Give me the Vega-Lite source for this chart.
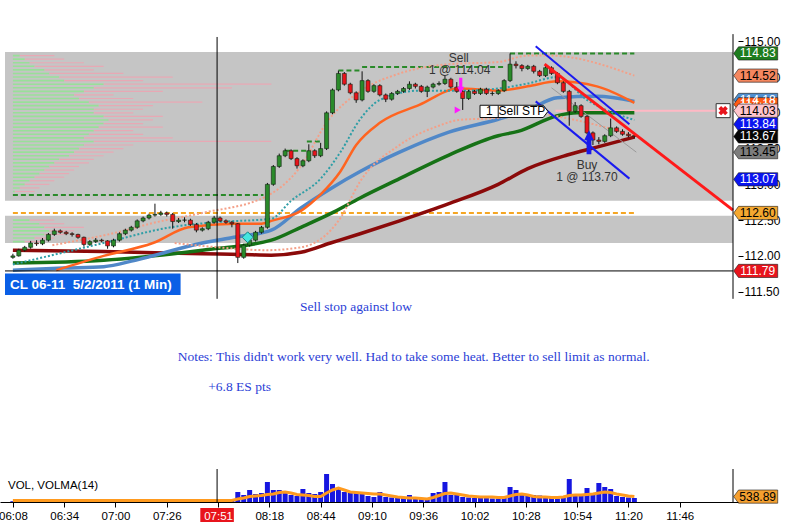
{
  "$schema": "https://vega.github.io/schema/vega-lite/v6.json",
  "width": 738,
  "height": 502,
  "autosize": {"type": "none"},
  "padding": {"left": 0, "top": 0, "right": 54, "bottom": 28},
  "background": "white",
  "config": {"view": {"stroke": null}, "font": "Liberation Sans"},
  "datasets": {
    "bands": [{"m": -4, "m2": 365, "p": 114.85, "p2": 112.77}, {"m": -4, "m2": 365, "p": 112.56, "p2": 112.18}],
    "prof": [
      {"p": 114.80, "g": 3.5, "r": 21}, {"p": 114.75, "g": 6, "r": 26}, {"p": 114.70, "g": 8.5, "r": 36},
      {"p": 114.65, "g": 11, "r": 46}, {"p": 114.60, "g": 16, "r": 41}, {"p": 114.55, "g": 18.5, "r": 56},
      {"p": 114.50, "g": 23.5, "r": 81}, {"p": 114.45, "g": 26, "r": 66}, {"p": 114.40, "g": 46, "r": 131},
      {"p": 114.35, "g": 41, "r": 111}, {"p": 114.30, "g": 36, "r": 76}, {"p": 114.25, "g": 31, "r": 51},
      {"p": 114.20, "g": 33.5, "r": 61}, {"p": 114.15, "g": 38.5, "r": 96}, {"p": 114.10, "g": 43.5, "r": 71},
      {"p": 114.05, "g": 41, "r": 66}, {"p": 114.00, "g": 41, "r": 61}, {"p": 113.95, "g": 46, "r": 76},
      {"p": 113.90, "g": 48.5, "r": 71}, {"p": 113.85, "g": 46, "r": 66}, {"p": 113.80, "g": 43.5, "r": 76},
      {"p": 113.75, "g": 41, "r": 61}, {"p": 113.70, "g": 38.5, "r": 66}, {"p": 113.65, "g": 36, "r": 81},
      {"p": 113.60, "g": 41, "r": 131}, {"p": 113.55, "g": 36, "r": 61}, {"p": 113.50, "g": 33.5, "r": 56},
      {"p": 113.45, "g": 31, "r": 51}, {"p": 113.40, "g": 28.5, "r": 46}, {"p": 113.35, "g": 23.5, "r": 41},
      {"p": 113.30, "g": 21, "r": 38.5}, {"p": 113.25, "g": 18.5, "r": 33.5}, {"p": 113.20, "g": 16, "r": 31},
      {"p": 113.15, "g": 13.5, "r": 28.5}, {"p": 113.10, "g": 11, "r": 26}, {"p": 113.05, "g": 8.5, "r": 21},
      {"p": 113.00, "g": 6, "r": 18.5}, {"p": 112.95, "g": 3.5, "r": 13.5}, {"p": 112.90, "g": 1, "r": 11},
      {"p": 112.50, "g": 8.5, "r": 21}, {"p": 112.45, "g": 13.5, "r": 26}, {"p": 112.40, "g": 16, "r": 36},
      {"p": 112.35, "g": 18.5, "r": 31}, {"p": 112.30, "g": 16, "r": 26}, {"p": 112.25, "g": 11, "r": 21},
      {"p": 112.20, "g": 6, "r": 16}
    ],
    "hi": [
      {"m": 0, "m2": 127, "p": 112.85}, {"m": 138, "m2": 149, "p": 113.47}, {"m": 149, "m2": 157, "p": 113.60},
      {"m": 165, "m2": 177, "p": 114.59}, {"m": 177, "m2": 250, "p": 114.64}, {"m": 252, "m2": 315, "p": 114.83}
    ],
    "lvl": [{"m": 0, "m2": 316, "p": 112.60}],
    "seg": [
      {"s": "chan", "m": 265, "p": 114.93, "m2": 312.5, "p2": 113.84},
      {"s": "chan", "m": 265, "p": 114.16, "m2": 312.5, "p2": 113.08},
      {"s": "trend", "m": 269.5, "p": 114.68, "m2": 365, "p2": 112.64},
      {"s": "stop", "m": 275, "p": 114.03, "m2": 360, "p2": 114.03},
      {"s": "low", "m": -4, "p": 111.79, "m2": 365, "p2": 111.79},
      {"s": "cursor", "m": 103.5, "p": 115.06, "m2": 103.5, "p2": 111.4},
      {"s": "edge", "m": 365, "p": 115.1, "m2": 365, "p2": 111.4},
      {"s": "divider", "m": 246, "p": 114.1, "m2": 246, "p2": 113.94}
    ],
    "ma": [
      {"s": "maroon", "m": 0, "p": 112.08}, {"s": "maroon", "m": 46, "p": 112.06}, {"s": "maroon", "m": 96, "p": 112.03},
      {"s": "maroon", "m": 116, "p": 112.02}, {"s": "maroon", "m": 131, "p": 112.01}, {"s": "maroon", "m": 146, "p": 112.05},
      {"s": "maroon", "m": 161, "p": 112.18}, {"s": "maroon", "m": 176, "p": 112.31}, {"s": "maroon", "m": 196, "p": 112.49},
      {"s": "maroon", "m": 221, "p": 112.73}, {"s": "maroon", "m": 246, "p": 113.00}, {"s": "maroon", "m": 261, "p": 113.22},
      {"s": "maroon", "m": 281, "p": 113.41}, {"s": "maroon", "m": 296, "p": 113.52}, {"s": "maroon", "m": 315, "p": 113.66},
      {"s": "green", "m": 0, "p": 111.90}, {"s": "green", "m": 46, "p": 111.94}, {"s": "green", "m": 96, "p": 112.08},
      {"s": "green", "m": 131, "p": 112.22}, {"s": "green", "m": 146, "p": 112.40}, {"s": "green", "m": 161, "p": 112.59},
      {"s": "green", "m": 176, "p": 112.81}, {"s": "green", "m": 196, "p": 113.08}, {"s": "green", "m": 221, "p": 113.41},
      {"s": "green", "m": 246, "p": 113.68}, {"s": "green", "m": 256, "p": 113.74}, {"s": "green", "m": 276, "p": 113.96},
      {"s": "green", "m": 286, "p": 114.00}, {"s": "green", "m": 315, "p": 114.00},
      {"s": "blue", "m": 0, "p": 111.80}, {"s": "blue", "m": 26, "p": 111.83}, {"s": "blue", "m": 46, "p": 111.85},
      {"s": "blue", "m": 62, "p": 111.94}, {"s": "blue", "m": 96, "p": 112.18}, {"s": "blue", "m": 112, "p": 112.26},
      {"s": "blue", "m": 131, "p": 112.36}, {"s": "blue", "m": 146, "p": 112.67}, {"s": "blue", "m": 161, "p": 112.94},
      {"s": "blue", "m": 176, "p": 113.18}, {"s": "blue", "m": 196, "p": 113.45}, {"s": "blue", "m": 221, "p": 113.73},
      {"s": "blue", "m": 246, "p": 113.91}, {"s": "blue", "m": 261, "p": 114.04}, {"s": "blue", "m": 276, "p": 114.21},
      {"s": "blue", "m": 296, "p": 114.23}, {"s": "blue", "m": 315, "p": 114.16},
      {"s": "orange", "m": 22, "p": 111.80}, {"s": "orange", "m": 46, "p": 112.00}, {"s": "orange", "m": 71, "p": 112.18},
      {"s": "orange", "m": 89, "p": 112.40}, {"s": "orange", "m": 112, "p": 112.45}, {"s": "orange", "m": 126, "p": 112.45},
      {"s": "orange", "m": 131, "p": 112.49}, {"s": "orange", "m": 146, "p": 112.63}, {"s": "orange", "m": 156, "p": 112.86},
      {"s": "orange", "m": 166, "p": 113.18}, {"s": "orange", "m": 174, "p": 113.55}, {"s": "orange", "m": 186, "p": 113.86},
      {"s": "orange", "m": 206, "p": 114.11}, {"s": "orange", "m": 226, "p": 114.34}, {"s": "orange", "m": 246, "p": 114.31},
      {"s": "orange", "m": 261, "p": 114.37}, {"s": "orange", "m": 276, "p": 114.44}, {"s": "orange", "m": 296, "p": 114.37},
      {"s": "orange", "m": 315, "p": 114.14},
      {"s": "teal", "m": 0, "p": 111.88}, {"s": "teal", "m": 46, "p": 112.18}, {"s": "teal", "m": 80, "p": 112.40},
      {"s": "teal", "m": 102, "p": 112.47}, {"s": "teal", "m": 131, "p": 112.52}, {"s": "teal", "m": 141, "p": 112.77},
      {"s": "teal", "m": 156, "p": 113.08}, {"s": "teal", "m": 166, "p": 113.45}, {"s": "teal", "m": 176, "p": 113.91},
      {"s": "teal", "m": 186, "p": 114.18}, {"s": "teal", "m": 206, "p": 114.31}, {"s": "teal", "m": 226, "p": 114.31},
      {"s": "teal", "m": 246, "p": 114.34}, {"s": "teal", "m": 261, "p": 114.41}, {"s": "teal", "m": 276, "p": 114.50},
      {"s": "teal", "m": 291, "p": 114.18}, {"s": "teal", "m": 315, "p": 113.90},
      {"s": "upper", "m": 20, "p": 112.15}, {"s": "upper", "m": 56, "p": 112.35}, {"s": "upper", "m": 71, "p": 112.46},
      {"s": "upper", "m": 96, "p": 112.60}, {"s": "upper", "m": 129, "p": 112.84}, {"s": "upper", "m": 145, "p": 113.22},
      {"s": "upper", "m": 160, "p": 113.90}, {"s": "upper", "m": 176, "p": 114.30}, {"s": "upper", "m": 196, "p": 114.55},
      {"s": "upper", "m": 221, "p": 114.68}, {"s": "upper", "m": 246, "p": 114.71}, {"s": "upper", "m": 261, "p": 114.80},
      {"s": "upper", "m": 272, "p": 114.80}, {"s": "upper", "m": 315, "p": 114.52},
      {"s": "lower", "m": 82, "p": 112.18}, {"s": "lower", "m": 104, "p": 112.12}, {"s": "lower", "m": 129, "p": 112.08},
      {"s": "lower", "m": 146, "p": 112.12}, {"s": "lower", "m": 166, "p": 112.53}, {"s": "lower", "m": 176, "p": 113.04},
      {"s": "lower", "m": 196, "p": 113.55}, {"s": "lower", "m": 216, "p": 113.82}, {"s": "lower", "m": 226, "p": 113.90},
      {"s": "lower", "m": 246, "p": 113.93}, {"s": "lower", "m": 261, "p": 114.00}, {"s": "lower", "m": 285, "p": 113.90},
      {"s": "lower", "m": 315, "p": 113.68},
      {"s": "grey", "m": 273, "p": 114.35}, {"s": "grey", "m": 316, "p": 113.45}
    ],
    "bars": [
      {"m": 0, "o": 111.98, "h": 112.03, "l": 111.96, "c": 112.00, "v": 80, "a": 150},
      {"m": 3, "o": 112.00, "h": 112.10, "l": 111.99, "c": 112.08, "v": 60, "a": 150},
      {"m": 6, "o": 112.08, "h": 112.14, "l": 112.06, "c": 112.12, "v": 90, "a": 150},
      {"m": 9, "o": 112.12, "h": 112.21, "l": 112.10, "c": 112.18, "v": 70, "a": 150},
      {"m": 12, "o": 112.18, "h": 112.22, "l": 112.14, "c": 112.17, "v": 80, "a": 150},
      {"m": 15, "o": 112.17, "h": 112.25, "l": 112.15, "c": 112.22, "v": 100, "a": 150},
      {"m": 18, "o": 112.22, "h": 112.32, "l": 112.20, "c": 112.30, "v": 200, "a": 150},
      {"m": 21, "o": 112.30, "h": 112.38, "l": 112.28, "c": 112.35, "v": 90, "a": 150},
      {"m": 24, "o": 112.35, "h": 112.37, "l": 112.31, "c": 112.33, "v": 70, "a": 150},
      {"m": 27, "o": 112.33, "h": 112.35, "l": 112.29, "c": 112.31, "v": 60, "a": 150},
      {"m": 30, "o": 112.31, "h": 112.33, "l": 112.27, "c": 112.30, "v": 80, "a": 150},
      {"m": 33, "o": 112.30, "h": 112.31, "l": 112.24, "c": 112.26, "v": 70, "a": 150},
      {"m": 36, "o": 112.26, "h": 112.27, "l": 112.13, "c": 112.16, "v": 120, "a": 150},
      {"m": 39, "o": 112.16, "h": 112.22, "l": 112.14, "c": 112.20, "v": 200, "a": 150},
      {"m": 42, "o": 112.20, "h": 112.25, "l": 112.18, "c": 112.22, "v": 80, "a": 150},
      {"m": 45, "o": 112.22, "h": 112.24, "l": 112.19, "c": 112.21, "v": 60, "a": 150},
      {"m": 48, "o": 112.21, "h": 112.22, "l": 112.10, "c": 112.14, "v": 90, "a": 150},
      {"m": 51, "o": 112.14, "h": 112.24, "l": 112.12, "c": 112.22, "v": 100, "a": 150},
      {"m": 54, "o": 112.22, "h": 112.33, "l": 112.20, "c": 112.31, "v": 250, "a": 150},
      {"m": 57, "o": 112.31, "h": 112.38, "l": 112.29, "c": 112.36, "v": 80, "a": 150},
      {"m": 60, "o": 112.36, "h": 112.42, "l": 112.34, "c": 112.40, "v": 70, "a": 150},
      {"m": 63, "o": 112.40, "h": 112.51, "l": 112.38, "c": 112.49, "v": 90, "a": 150},
      {"m": 66, "o": 112.49, "h": 112.55, "l": 112.47, "c": 112.53, "v": 80, "a": 150},
      {"m": 69, "o": 112.53, "h": 112.59, "l": 112.51, "c": 112.57, "v": 100, "a": 150},
      {"m": 72, "o": 112.57, "h": 112.73, "l": 112.55, "c": 112.58, "v": 180, "a": 150},
      {"m": 75, "o": 112.58, "h": 112.63, "l": 112.56, "c": 112.60, "v": 80, "a": 150},
      {"m": 78, "o": 112.60, "h": 112.62, "l": 112.55, "c": 112.58, "v": 70, "a": 150},
      {"m": 81, "o": 112.58, "h": 112.60, "l": 112.38, "c": 112.48, "v": 150, "a": 150},
      {"m": 84, "o": 112.48, "h": 112.53, "l": 112.46, "c": 112.50, "v": 200, "a": 150},
      {"m": 87, "o": 112.50, "h": 112.54, "l": 112.47, "c": 112.50, "v": 80, "a": 150},
      {"m": 90, "o": 112.50, "h": 112.52, "l": 112.42, "c": 112.44, "v": 70, "a": 150},
      {"m": 93, "o": 112.44, "h": 112.46, "l": 112.33, "c": 112.36, "v": 90, "a": 150},
      {"m": 96, "o": 112.36, "h": 112.40, "l": 112.34, "c": 112.38, "v": 80, "a": 150},
      {"m": 99, "o": 112.38, "h": 112.49, "l": 112.36, "c": 112.47, "v": 70, "a": 150},
      {"m": 102, "o": 112.47, "h": 112.56, "l": 112.45, "c": 112.53, "v": 80, "a": 150},
      {"m": 105, "o": 112.53, "h": 112.55, "l": 112.47, "c": 112.49, "v": 70, "a": 150},
      {"m": 108, "o": 112.49, "h": 112.51, "l": 112.45, "c": 112.47, "v": 90, "a": 150},
      {"m": 111, "o": 112.47, "h": 112.49, "l": 112.40, "c": 112.45, "v": 150, "a": 150},
      {"m": 114, "o": 112.45, "h": 112.46, "l": 111.90, "c": 111.98, "v": 1000, "a": 300},
      {"m": 117, "o": 111.98, "h": 112.17, "l": 111.96, "c": 112.15, "v": 700, "a": 400},
      {"m": 120, "o": 112.15, "h": 112.24, "l": 112.13, "c": 112.22, "v": 1200, "a": 550},
      {"m": 123, "o": 112.22, "h": 112.35, "l": 112.20, "c": 112.33, "v": 800, "a": 600},
      {"m": 126, "o": 112.33, "h": 112.42, "l": 112.31, "c": 112.40, "v": 900, "a": 650},
      {"m": 129, "o": 112.40, "h": 113.02, "l": 112.38, "c": 113.00, "v": 2000, "a": 750},
      {"m": 132, "o": 113.00, "h": 113.27, "l": 112.98, "c": 113.25, "v": 1200, "a": 800},
      {"m": 135, "o": 113.25, "h": 113.43, "l": 113.23, "c": 113.40, "v": 1200, "a": 950},
      {"m": 138, "o": 113.40, "h": 113.50, "l": 113.38, "c": 113.47, "v": 1100, "a": 1000},
      {"m": 141, "o": 113.47, "h": 113.49, "l": 113.34, "c": 113.36, "v": 700, "a": 900},
      {"m": 144, "o": 113.36, "h": 113.38, "l": 113.22, "c": 113.26, "v": 600, "a": 750},
      {"m": 147, "o": 113.26, "h": 113.35, "l": 113.24, "c": 113.33, "v": 1300, "a": 700},
      {"m": 150, "o": 113.33, "h": 113.56, "l": 113.31, "c": 113.47, "v": 900, "a": 650},
      {"m": 153, "o": 113.47, "h": 113.49, "l": 113.37, "c": 113.40, "v": 800, "a": 550},
      {"m": 156, "o": 113.40, "h": 113.58, "l": 113.38, "c": 113.50, "v": 1000, "a": 550},
      {"m": 159, "o": 113.50, "h": 114.02, "l": 113.48, "c": 114.00, "v": 2800, "a": 900},
      {"m": 162, "o": 114.00, "h": 114.34, "l": 113.98, "c": 114.32, "v": 1800, "a": 1200},
      {"m": 165, "o": 114.32, "h": 114.59, "l": 114.30, "c": 114.55, "v": 1400, "a": 1400},
      {"m": 168, "o": 114.55, "h": 114.57, "l": 114.38, "c": 114.40, "v": 1000, "a": 1200},
      {"m": 171, "o": 114.40, "h": 114.42, "l": 114.26, "c": 114.28, "v": 900, "a": 1000},
      {"m": 174, "o": 114.28, "h": 114.30, "l": 114.14, "c": 114.18, "v": 900, "a": 950},
      {"m": 177, "o": 114.18, "h": 114.58, "l": 114.16, "c": 114.45, "v": 800, "a": 900},
      {"m": 180, "o": 114.45, "h": 114.47, "l": 114.28, "c": 114.30, "v": 600, "a": 850},
      {"m": 183, "o": 114.30, "h": 114.40, "l": 114.28, "c": 114.38, "v": 500, "a": 800},
      {"m": 186, "o": 114.38, "h": 114.40, "l": 114.23, "c": 114.25, "v": 1000, "a": 800},
      {"m": 189, "o": 114.25, "h": 114.27, "l": 114.15, "c": 114.19, "v": 500, "a": 700},
      {"m": 192, "o": 114.19, "h": 114.29, "l": 114.17, "c": 114.27, "v": 450, "a": 600},
      {"m": 195, "o": 114.27, "h": 114.32, "l": 114.25, "c": 114.30, "v": 400, "a": 500},
      {"m": 198, "o": 114.30, "h": 114.36, "l": 114.28, "c": 114.34, "v": 400, "a": 450},
      {"m": 201, "o": 114.34, "h": 114.44, "l": 114.32, "c": 114.40, "v": 700, "a": 400},
      {"m": 204, "o": 114.40, "h": 114.42, "l": 114.34, "c": 114.37, "v": 400, "a": 400},
      {"m": 207, "o": 114.37, "h": 114.39, "l": 114.28, "c": 114.30, "v": 350, "a": 350},
      {"m": 210, "o": 114.30, "h": 114.38, "l": 114.22, "c": 114.36, "v": 250, "a": 300},
      {"m": 213, "o": 114.36, "h": 114.42, "l": 114.34, "c": 114.40, "v": 900, "a": 450},
      {"m": 216, "o": 114.40, "h": 114.44, "l": 114.38, "c": 114.41, "v": 1000, "a": 650},
      {"m": 219, "o": 114.41, "h": 114.52, "l": 114.39, "c": 114.47, "v": 2000, "a": 850},
      {"m": 222, "o": 114.47, "h": 114.49, "l": 114.34, "c": 114.36, "v": 700, "a": 900},
      {"m": 225, "o": 114.36, "h": 114.43, "l": 114.28, "c": 114.30, "v": 800, "a": 800},
      {"m": 228, "o": 114.30, "h": 114.32, "l": 114.04, "c": 114.20, "v": 500, "a": 700},
      {"m": 231, "o": 114.20, "h": 114.32, "l": 114.18, "c": 114.30, "v": 450, "a": 600},
      {"m": 234, "o": 114.30, "h": 114.32, "l": 114.25, "c": 114.27, "v": 400, "a": 550},
      {"m": 237, "o": 114.27, "h": 114.35, "l": 114.25, "c": 114.33, "v": 400, "a": 500},
      {"m": 240, "o": 114.33, "h": 114.35, "l": 114.25, "c": 114.27, "v": 400, "a": 500},
      {"m": 243, "o": 114.27, "h": 114.30, "l": 114.24, "c": 114.27, "v": 350, "a": 500},
      {"m": 246, "o": 114.27, "h": 114.33, "l": 114.25, "c": 114.31, "v": 350, "a": 450},
      {"m": 249, "o": 114.31, "h": 114.47, "l": 114.29, "c": 114.45, "v": 500, "a": 450},
      {"m": 252, "o": 114.45, "h": 114.83, "l": 114.43, "c": 114.68, "v": 1500, "a": 600},
      {"m": 255, "o": 114.68, "h": 114.72, "l": 114.62, "c": 114.66, "v": 1200, "a": 750},
      {"m": 258, "o": 114.66, "h": 114.68, "l": 114.58, "c": 114.62, "v": 700, "a": 800},
      {"m": 261, "o": 114.62, "h": 114.67, "l": 114.60, "c": 114.65, "v": 600, "a": 700},
      {"m": 264, "o": 114.65, "h": 114.67, "l": 114.55, "c": 114.58, "v": 700, "a": 550},
      {"m": 267, "o": 114.58, "h": 114.60, "l": 114.50, "c": 114.52, "v": 650, "a": 500},
      {"m": 270, "o": 114.52, "h": 114.66, "l": 114.50, "c": 114.63, "v": 500, "a": 500},
      {"m": 273, "o": 114.63, "h": 114.65, "l": 114.53, "c": 114.55, "v": 450, "a": 450},
      {"m": 276, "o": 114.55, "h": 114.57, "l": 114.40, "c": 114.42, "v": 350, "a": 450},
      {"m": 279, "o": 114.42, "h": 114.44, "l": 114.28, "c": 114.30, "v": 500, "a": 500},
      {"m": 282, "o": 114.30, "h": 114.32, "l": 113.82, "c": 114.02, "v": 2300, "a": 650},
      {"m": 285, "o": 114.02, "h": 114.15, "l": 114.00, "c": 114.10, "v": 800, "a": 700},
      {"m": 288, "o": 114.10, "h": 114.12, "l": 113.93, "c": 113.95, "v": 700, "a": 700},
      {"m": 291, "o": 113.95, "h": 113.97, "l": 113.70, "c": 113.72, "v": 1400, "a": 750},
      {"m": 294, "o": 113.72, "h": 113.74, "l": 113.55, "c": 113.62, "v": 900, "a": 800},
      {"m": 297, "o": 113.62, "h": 113.66, "l": 113.56, "c": 113.60, "v": 1900, "a": 900},
      {"m": 300, "o": 113.60, "h": 113.70, "l": 113.58, "c": 113.68, "v": 1500, "a": 1000},
      {"m": 303, "o": 113.68, "h": 113.92, "l": 113.66, "c": 113.79, "v": 1300, "a": 950},
      {"m": 306, "o": 113.79, "h": 113.81, "l": 113.72, "c": 113.74, "v": 600, "a": 800},
      {"m": 309, "o": 113.74, "h": 113.77, "l": 113.68, "c": 113.70, "v": 500, "a": 700},
      {"m": 312, "o": 113.70, "h": 113.73, "l": 113.66, "c": 113.68, "v": 450, "a": 600},
      {"m": 315, "o": 113.68, "h": 113.70, "l": 113.64, "c": 113.67, "v": 400, "a": 539}
    ],
    "trades": [
      {"k": "sell", "m": 227, "p": 114.38}, {"k": "fill", "m": 225.5, "p": 114.04},
      {"k": "buy", "m": 292, "p": 113.59}, {"k": "entry", "m": 119, "p": 112.26},
      {"k": "stpbox", "m": 254, "p": 114.02}, {"k": "xbox", "m": 360, "p": 114.03}
    ],
    "tlab": [
      {"t": "Sell", "m": 226, "p": 114.77}, {"t": "1 @ 114.04", "m": 226.5, "p": 114.60},
      {"t": "Buy", "m": 291, "p": 113.27}, {"t": "1 @ 113.70", "m": 291, "p": 113.10}
    ],
    "stp": [{"t": "1", "m": 241.5, "p": 114.02}, {"t": "Sell STP", "m": 258, "p": 114.02}],
    "tags": [
      {"s": "sb", "m": 376.5, "p": 114.18}, {"s": "or", "m": 376.5, "p": 114.12},
      {"s": "hi", "m": 376.5, "p": 114.83}, {"s": "up", "m": 376.5, "p": 114.52},
      {"s": "stop", "m": 376.5, "p": 114.03}, {"s": "ch1", "m": 376.5, "p": 113.84},
      {"s": "last", "m": 376.5, "p": 113.67}, {"s": "reg", "m": 376.5, "p": 113.45}, {"s": "ch2", "m": 376.5, "p": 113.07},
      {"s": "lvl", "m": 376.5, "p": 112.60}, {"s": "low", "m": 376.5, "p": 111.79}
    ],
    "cl": [{"t": "CL 06-11\u00a0 5/2/2011 (1 Min)", "m": -4, "m2": 85, "p": 111.753, "p2": 111.452, "tm": -1.5, "tp": 111.6}],
    "notes": [
      {"t": "Sell stop against low", "m": 145.5, "p": 111.288},
      {"t": "Notes: This didn't work very well. Had to take some heat. Better to sell limit as normal.", "m": 83.5, "p": 110.589},
      {"t": "+6.8 ES pts", "m": 99, "p": 110.164}
    ],
    "vseg": [{"m": 103.5, "v": 0, "v2": 3300}, {"m": 365, "v": 0, "v2": 3300}],
    "vbox": [{"m": 95, "m2": 112, "v": -600, "v2": -2000}],
    "vtext": [{"t": "VOL, VOLMA(14)", "m": -2.5, "v": 1600}],
    "vtag": [{"m": 376.5, "v": 538.89}]
  },
  "layer": [
    {
      "layer": [
        {"data": {"name": "bands"}, "mark": {"type": "rect", "color": "#c5c5c5"},
         "encoding": {
           "x": {"field": "m", "type": "quantitative", "scale": {"domain": [-4, 365], "nice": false, "zero": false}},
           "x2": {"field": "m2"},
           "y": {"field": "p", "type": "quantitative", "scale": {"domain": [108.63, 115.507], "nice": false, "zero": false}},
           "y2": {"field": "p2"}
         }},
        {"data": {"name": "prof"}, "mark": {"type": "bar", "orient": "horizontal", "height": 1.6, "color": "#98e098"},
         "encoding": {
           "x": {"field": "g", "type": "quantitative"},
           "y": {"field": "p", "type": "quantitative"}
         }},
        {"data": {"name": "prof"}, "mark": {"type": "rule", "color": "#e8a8b4", "strokeWidth": 1.2},
         "encoding": {
           "x": {"field": "g", "type": "quantitative"},
           "x2": {"field": "r"},
           "y": {"field": "p", "type": "quantitative"}
         }},
        {"data": {"name": "hi"}, "mark": {"type": "rule", "color": "#2a8a2a", "strokeWidth": 2, "strokeDash": [5, 3]},
         "encoding": {
           "x": {"field": "m", "type": "quantitative"},
           "x2": {"field": "m2"},
           "y": {"field": "p", "type": "quantitative"}
         }},
        {"data": {"name": "lvl"}, "mark": {"type": "rule", "color": "#f5a623", "strokeWidth": 2, "strokeDash": [5, 3]},
         "encoding": {
           "x": {"field": "m", "type": "quantitative"},
           "x2": {"field": "m2"},
           "y": {"field": "p", "type": "quantitative"}
         }},
        {"data": {"name": "seg"}, "transform": [{"filter": "datum.s == 'stop'"}],
         "mark": {"type": "rule", "color": "#ffb8c4", "strokeWidth": 2},
         "encoding": {
           "x": {"field": "m", "type": "quantitative"}, "x2": {"field": "m2"},
           "y": {"field": "p", "type": "quantitative"}, "y2": {"field": "p2"}
         }},
        {"data": {"name": "ma"}, "transform": [{"filter": "datum.s == 'maroon'"}],
         "mark": {"type": "line", "color": "#8b0a0a", "strokeWidth": 3.5, "interpolate": "monotone"},
         "encoding": {"x": {"field": "m", "type": "quantitative"}, "y": {"field": "p", "type": "quantitative"}}},
        {"data": {"name": "ma"}, "transform": [{"filter": "datum.s == 'green'"}],
         "mark": {"type": "line", "color": "#167216", "strokeWidth": 3.5, "interpolate": "monotone"},
         "encoding": {"x": {"field": "m", "type": "quantitative"}, "y": {"field": "p", "type": "quantitative"}}},
        {"data": {"name": "ma"}, "transform": [{"filter": "datum.s == 'blue'"}],
         "mark": {"type": "line", "color": "#5088c8", "strokeWidth": 3.5, "interpolate": "monotone"},
         "encoding": {"x": {"field": "m", "type": "quantitative"}, "y": {"field": "p", "type": "quantitative"}}},
        {"data": {"name": "ma"}, "transform": [{"filter": "datum.s == 'orange'"}],
         "mark": {"type": "line", "color": "#ff6420", "strokeWidth": 2.5, "interpolate": "monotone"},
         "encoding": {"x": {"field": "m", "type": "quantitative"}, "y": {"field": "p", "type": "quantitative"}}},
        {"data": {"name": "ma"}, "transform": [{"filter": "datum.s == 'teal'"}],
         "mark": {"type": "line", "color": "#2e9ea6", "strokeWidth": 2, "strokeDash": [2, 2], "interpolate": "monotone"},
         "encoding": {"x": {"field": "m", "type": "quantitative"}, "y": {"field": "p", "type": "quantitative"}}},
        {"data": {"name": "ma"}, "transform": [{"filter": "datum.s == 'upper' || datum.s == 'lower'"}],
         "mark": {"type": "line", "color": "#f4a088", "strokeWidth": 2, "strokeDash": [2, 2], "interpolate": "monotone"},
         "encoding": {"x": {"field": "m", "type": "quantitative"}, "y": {"field": "p", "type": "quantitative"}, "detail": {"field": "s"}}},
        {"data": {"name": "ma"}, "transform": [{"filter": "datum.s == 'grey'"}],
         "mark": {"type": "line", "color": "#9a9a9a", "strokeWidth": 1},
         "encoding": {"x": {"field": "m", "type": "quantitative"}, "y": {"field": "p", "type": "quantitative"}}},
        {"data": {"name": "bars"}, "mark": {"type": "rule", "color": "#101010", "strokeWidth": 1},
         "encoding": {"x": {"field": "m", "type": "quantitative"}, "y": {"field": "l", "type": "quantitative"}, "y2": {"field": "h"}}},
        {"data": {"name": "bars"}, "mark": {"type": "bar", "width": 4, "stroke": "#102010", "strokeWidth": 0.6},
         "encoding": {
           "x": {"field": "m", "type": "quantitative"},
           "y": {
             "field": "o", "type": "quantitative",
             "scale": {"domain": [108.63, 115.507], "nice": false, "zero": false},
             "axis": {
               "orient": "right",
               "values": [111.5, 112, 112.5, 113, 113.5, 114, 114.5, 115],
               "format": ".2f",
               "title": null,
               "grid": false,
               "domain": false,
               "ticks": true,
               "tickSize": 5,
               "tickColor": "black",
               "labels": true,
               "labelFontSize": 12,
               "labelPadding": 1,
               "labelColor": "black",
               "labelFlush": false,
               "labelOverlap": false,
               "zindex": 0
             }
           },
           "y2": {"field": "c"},
           "color": {"condition": {"test": "datum.c >= datum.o", "value": "#2a8a2a"}, "value": "#e8141c"}
         }},
        {"data": {"name": "seg"}, "transform": [{"filter": "datum.s == 'chan'"}],
         "mark": {"type": "rule", "color": "#1a1af0", "strokeWidth": 2},
         "encoding": {
           "x": {"field": "m", "type": "quantitative"}, "x2": {"field": "m2"},
           "y": {"field": "p", "type": "quantitative"}, "y2": {"field": "p2"}
         }},
        {"data": {"name": "seg"}, "transform": [{"filter": "datum.s == 'trend'"}],
         "mark": {"type": "rule", "color": "#ff1a1a", "strokeWidth": 3},
         "encoding": {
           "x": {"field": "m", "type": "quantitative"}, "x2": {"field": "m2"},
           "y": {"field": "p", "type": "quantitative"}, "y2": {"field": "p2"}
         }},
        {"data": {"name": "seg"}, "transform": [{"filter": "datum.s == 'low' || datum.s == 'cursor' || datum.s == 'edge'"}],
         "mark": {"type": "rule", "color": "black", "strokeWidth": 1},
         "encoding": {
           "x": {"field": "m", "type": "quantitative"}, "x2": {"field": "m2"},
           "y": {"field": "p", "type": "quantitative"}, "y2": {"field": "p2"}
         }},
        {"data": {"name": "trades"}, "transform": [{"filter": "datum.k == 'sell'"}],
         "mark": {"type": "point", "shape": "M -0.2 -1 L 0.2 -1 L 0.2 0.15 L 0.45 0.15 L 0 1 L -0.45 0.15 L -0.2 0.15 Z", "size": 256, "filled": true, "opacity": 1, "color": "#ff19ff"},
         "encoding": {"x": {"field": "m", "type": "quantitative"}, "y": {"field": "p", "type": "quantitative"}}},
        {"data": {"name": "trades"}, "transform": [{"filter": "datum.k == 'fill'"}],
         "mark": {"type": "point", "shape": "triangle-right", "size": 50, "filled": true, "opacity": 1, "color": "#ff19ff"},
         "encoding": {"x": {"field": "m", "type": "quantitative"}, "y": {"field": "p", "type": "quantitative"}}},
        {"data": {"name": "trades"}, "transform": [{"filter": "datum.k == 'buy'"}],
         "mark": {"type": "point", "shape": "M -0.2 1 L 0.2 1 L 0.2 -0.15 L 0.4 -0.15 L 0 -1 L -0.4 -0.15 L -0.2 -0.15 Z", "size": 576, "filled": true, "opacity": 1, "color": "#1a1ae8"},
         "encoding": {"x": {"field": "m", "type": "quantitative"}, "y": {"field": "p", "type": "quantitative"}}},
        {"data": {"name": "trades"}, "transform": [{"filter": "datum.k == 'entry'"}],
         "mark": {"type": "point", "shape": "diamond", "size": 120, "filled": true, "opacity": 1, "color": "#45e6e0", "stroke": "#1a8080", "strokeWidth": 1},
         "encoding": {"x": {"field": "m", "type": "quantitative"}, "y": {"field": "p", "type": "quantitative"}}},
        {"data": {"name": "trades"}, "transform": [{"filter": "datum.k == 'stpbox'"}],
         "mark": {"type": "point", "shape": "M -1 -0.18 L 0.86 -0.18 L 1 0 L 0.86 0.18 L -1 0.18 Z", "size": 4624, "filled": true, "opacity": 1, "color": "white", "stroke": "#111", "strokeWidth": 1},
         "encoding": {"x": {"field": "m", "type": "quantitative"}, "y": {"field": "p", "type": "quantitative"}}},
        {"data": {"name": "seg"}, "transform": [{"filter": "datum.s == 'divider'"}],
         "mark": {"type": "rule", "color": "#111", "strokeWidth": 1},
         "encoding": {
           "x": {"field": "m", "type": "quantitative"}, "x2": {"field": "m2"},
           "y": {"field": "p", "type": "quantitative"}, "y2": {"field": "p2"}
         }},
        {"data": {"name": "stp"}, "mark": {"type": "text", "fontSize": 12, "align": "center", "baseline": "middle", "color": "black"},
         "encoding": {"x": {"field": "m", "type": "quantitative"}, "y": {"field": "p", "type": "quantitative"}, "text": {"field": "t"}}},
        {"data": {"name": "tlab"}, "mark": {"type": "text", "fontSize": 12, "align": "center", "baseline": "middle", "color": "#333333"},
         "encoding": {"x": {"field": "m", "type": "quantitative"}, "y": {"field": "p", "type": "quantitative"}, "text": {"field": "t"}}},
        {"data": {"name": "trades"}, "transform": [{"filter": "datum.k == 'xbox'"}],
         "mark": {"type": "point", "shape": "square", "size": 196, "filled": true, "opacity": 1, "color": "white", "stroke": "#333", "strokeWidth": 1},
         "encoding": {"x": {"field": "m", "type": "quantitative"}, "y": {"field": "p", "type": "quantitative"}}},
        {"data": {"name": "trades"}, "transform": [{"filter": "datum.k == 'xbox'"}],
         "mark": {"type": "point", "shape": "cross", "angle": 45, "size": 90, "filled": true, "opacity": 1, "color": "#e8141c"},
         "encoding": {"x": {"field": "m", "type": "quantitative"}, "y": {"field": "p", "type": "quantitative"}}},
        {"data": {"name": "tags"}, "transform": [{"filter": "datum.s == 'sb' || datum.s == 'or'"}],
         "mark": {"type": "point", "shape": "M -1 0 L -0.78 -0.3 L 1 -0.3 L 1 0.3 L -0.78 0.3 Z", "size": 1936, "filled": true, "opacity": 1, "stroke": "#1a1a1a", "strokeWidth": 0.6},
         "encoding": {
           "x": {"field": "m", "type": "quantitative"},
           "y": {"field": "p", "type": "quantitative"},
           "color": {
             "field": "s", "type": "nominal", "legend": null,
             "scale": {
               "domain": ["hi", "up", "sb", "or", "stop", "ch1", "last", "reg", "ch2", "lvl", "low"],
               "range": ["#1e7d1e", "#f5875f", "#4f8fd0", "#ff5a14", "#ffc4cc", "#0a14f0", "#050505", "#7d7d7d", "#0a14f0", "#f5a830", "#e8141c"]
             }
           }
         }},
        {"data": {"name": "tags"}, "transform": [{"filter": "datum.s == 'sb' || datum.s == 'or'"}],
         "mark": {"type": "text", "fontSize": 12, "align": "center", "baseline": "middle", "dx": 2, "color": "white"},
         "encoding": {
           "x": {"field": "m", "type": "quantitative"},
           "y": {"field": "p", "type": "quantitative"},
           "text": {"field": "p", "type": "quantitative", "format": ".2f"}
         }},
        {"data": {"name": "tags"}, "transform": [{"filter": "datum.s != 'sb' && datum.s != 'or'"}],
         "mark": {"type": "point", "shape": "M -1 0 L -0.78 -0.3 L 1 -0.3 L 1 0.3 L -0.78 0.3 Z", "size": 1936, "filled": true, "opacity": 1, "stroke": "#1a1a1a", "strokeWidth": 0.6},
         "encoding": {
           "x": {"field": "m", "type": "quantitative"},
           "y": {"field": "p", "type": "quantitative"},
           "color": {"field": "s", "type": "nominal", "legend": null}
         }},
        {"data": {"name": "tags"}, "transform": [{"filter": "datum.s != 'sb' && datum.s != 'or'"}],
         "mark": {"type": "text", "fontSize": 12, "align": "center", "baseline": "middle", "dx": 2},
         "encoding": {
           "x": {"field": "m", "type": "quantitative"},
           "y": {"field": "p", "type": "quantitative"},
           "text": {"field": "p", "type": "quantitative", "format": ".2f"},
           "color": {"condition": {"test": "indexof(['up','stop','reg','lvl'], datum.s) >= 0", "value": "black"}, "value": "white"}
         }},
        {"data": {"name": "cl"}, "mark": {"type": "rect", "color": "#0a5fe6"},
         "encoding": {
           "x": {"field": "m", "type": "quantitative"}, "x2": {"field": "m2"},
           "y": {"field": "p", "type": "quantitative"}, "y2": {"field": "p2"}
         }},
        {"data": {"name": "cl"}, "mark": {"type": "text", "fontSize": 13.5, "fontWeight": "bold", "align": "left", "baseline": "middle", "color": "white"},
         "encoding": {"x": {"field": "tm", "type": "quantitative"}, "y": {"field": "tp", "type": "quantitative"}, "text": {"field": "t"}}},
        {"data": {"name": "notes"}, "mark": {"type": "text", "font": "Liberation Serif", "fontSize": 13.5, "align": "left", "baseline": "middle", "color": "#2b3ed6"},
         "encoding": {"x": {"field": "m", "type": "quantitative"}, "y": {"field": "p", "type": "quantitative"}, "text": {"field": "t"}}}
      ]
    },
    {
      "layer": [
        {"data": {"name": "bars"}, "mark": {"type": "bar", "width": 5, "color": "#1616e0"},
         "encoding": {
           "x": {
             "field": "m", "type": "quantitative",
             "scale": {"domain": [-4, 365], "nice": false, "zero": false},
             "axis": {
               "values": [0, 26, 52, 78, 104, 130, 156, 182, 208, 234, 260, 286, 312, 338],
               "labelExpr": "['06:08','06:34','07:00','07:26','07:51','08:18','08:44','09:10','09:36','10:02','10:28','10:54','11:20','11:46'][round(datum.value / 26)]",
               "labelColor": {"condition": {"test": "datum.value == 104", "value": "white"}, "value": "black"},
               "title": null,
               "grid": false,
               "domain": true,
               "ticks": true,
               "labels": true,
               "tickSize": 5,
               "tickColor": "black",
               "domainColor": "black",
               "labelFontSize": 11.5,
               "labelPadding": 3,
               "labelOverlap": false,
               "labelFlush": false,
               "zindex": 1
             }
           },
           "y": {"field": "v", "type": "quantitative", "scale": {"domain": [0, 50200], "nice": false, "zero": false}, "axis": null}
         }},
        {"data": {"name": "bars"}, "mark": {"type": "line", "color": "#ff9a1e", "strokeWidth": 3},
         "encoding": {"x": {"field": "m", "type": "quantitative"}, "y": {"field": "a", "type": "quantitative", "axis": null}}},
        {"data": {"name": "vseg"}, "mark": {"type": "rule", "color": "black", "strokeWidth": 1},
         "encoding": {"x": {"field": "m", "type": "quantitative"}, "y": {"field": "v", "type": "quantitative", "axis": null}, "y2": {"field": "v2"}}},
        {"data": {"name": "vbox"}, "mark": {"type": "rect", "color": "#e8141c"},
         "encoding": {"x": {"field": "m", "type": "quantitative"}, "x2": {"field": "m2"}, "y": {"field": "v", "type": "quantitative", "axis": null}, "y2": {"field": "v2"}}},
        {"data": {"name": "vtext"}, "mark": {"type": "text", "fontSize": 11.5, "align": "left", "baseline": "middle", "color": "black"},
         "encoding": {"x": {"field": "m", "type": "quantitative"}, "y": {"field": "v", "type": "quantitative", "axis": null}, "text": {"field": "t"}}},
        {"data": {"name": "vtag"},
         "mark": {"type": "point", "shape": "M -1 0 L -0.78 -0.3 L 1 -0.3 L 1 0.3 L -0.78 0.3 Z", "size": 1936, "filled": true, "opacity": 1, "color": "#f5a030", "stroke": "#1a1a1a", "strokeWidth": 0.6},
         "encoding": {"x": {"field": "m", "type": "quantitative"}, "y": {"field": "v", "type": "quantitative", "axis": null}}},
        {"data": {"name": "vtag"}, "mark": {"type": "text", "fontSize": 12, "align": "center", "baseline": "middle", "color": "black", "dx": 2},
         "encoding": {"x": {"field": "m", "type": "quantitative"}, "y": {"field": "v", "type": "quantitative", "axis": null}, "text": {"field": "v", "type": "quantitative", "format": ".2f"}}}
      ]
    }
  ],
  "resolve": {"scale": {"y": "independent"}}
}
